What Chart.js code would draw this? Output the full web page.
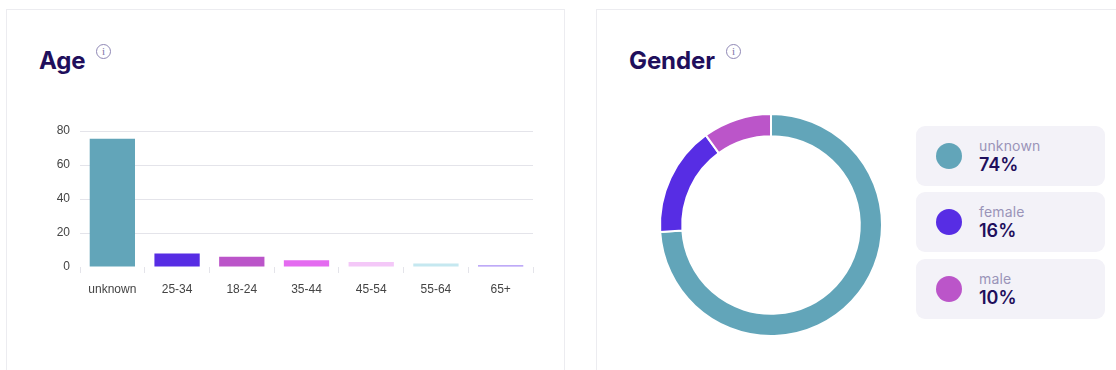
<!DOCTYPE html>
<html>
<head>
<meta charset="utf-8">
<script src="https://cdn.jsdelivr.net/npm/chart.js@4"></script>
<style>
html,body{margin:0;padding:0;background:#fff;width:1116px;height:370px;overflow:hidden}
.card{position:absolute;top:9px;height:400px;border:1px solid #ececf0;box-sizing:border-box;background:#fff}
.title{position:absolute;top:46px;font:700 24px/30px Inter,"Liberation Sans",sans-serif;color:#1f0f5c;letter-spacing:-.1px}
.info{position:absolute;top:44px;width:15px;height:15px;box-sizing:border-box;border:1.3px solid #8f88b5;border-radius:50%;font:400 11px/12.5px "Liberation Serif",serif;color:#7d75a8;text-align:center}
.box{position:absolute}
canvas{display:block}
.leg{position:absolute;left:916px;width:189px;height:60px;background:#f3f2f8;border-radius:9px}
.dot{position:absolute;left:20px;top:17px;width:26px;height:26px;border-radius:50%}
.lab{position:absolute;left:63px;top:11px;font:400 14px/17px Inter,"Liberation Sans",sans-serif;color:#9a94b8;letter-spacing:.15px}
.val{position:absolute;left:63px;top:29px;font:600 18px/20px Inter,"Liberation Sans",sans-serif;color:#1f0f5c}
</style>
</head>
<body>
<div class="card" style="left:6px;width:559px"></div>
<div class="card" style="left:596px;width:530px"></div>
<div class="title" style="left:39px">Age</div>
<div class="info" style="left:96px">i</div>
<div class="title" style="left:629px">Gender</div>
<div class="info" style="left:726px">i</div>
<div class="box" style="left:30px;top:108px;width:520px;height:200px"><canvas id="age" width="520" height="200"></canvas></div>
<div class="box" style="left:655px;top:109px;width:232px;height:232px"><canvas id="gender" width="232" height="232"></canvas></div>
<div id="legend"></div>
<script>
const ageLabels = ["unknown","25-34","18-24","35-44","45-54","55-64","65+"];
const ageValues = [75.5,8,6,4,3,2,1];
const ageColors = ["#62a5b9","#572de4","#bb55c9","#e46bf0","#f4c8f8","#c5e8f0","#a98ef5"];
const ageTicks = [0,20,40,60,80];
const genderLabels = ["unknown","female","male"];
const genderValues = [74,16,10];
const genderColors = ["#62a5b9","#572de4","#bb55c9"];
const legendTops = [126,192,259];

new Chart(document.getElementById("age"),{
  type:"bar",
  data:{labels:ageLabels,datasets:[{data:ageValues,backgroundColor:ageColors,borderWidth:0,barPercentage:0.7,categoryPercentage:1}]},
  options:{
    responsive:false,animation:false,
    layout:{padding:{top:23,right:17,left:0,bottom:0}},
    plugins:{legend:{display:false},tooltip:{enabled:false}},
    scales:{
      x:{
        grid:{drawOnChartArea:false,drawTicks:true,tickLength:6,color:"#e4e4ea"},
        border:{display:false},
        ticks:{color:"#444",font:{family:"'Liberation Sans'",size:12},padding:9,maxRotation:0},
        afterFit(s){s.height=41;s.paddingLeft=0;s.paddingRight=0;}
      },
      y:{
        min:0,max:80,
        afterBuildTicks(s){s.ticks=ageTicks.map(v=>({value:v}));},
        grid:{drawTicks:false,color:ctx=>ctx.tick&&ctx.tick.value===0?"rgba(0,0,0,0)":"#e4e4ea"},
        border:{display:false},
        ticks:{color:"#444",font:{family:"'Liberation Sans'",size:12},padding:10},
        afterFit(s){s.width=50;s.paddingTop=0;s.paddingBottom=0;}
      }
    }
  }
});

new Chart(document.getElementById("gender"),{
  type:"doughnut",
  data:{labels:genderLabels,datasets:[{data:genderValues,backgroundColor:genderColors,borderColor:"#fff",borderWidth:2}]},
  options:{
    responsive:false,animation:false,cutout:"80%",
    layout:{padding:4},
    plugins:{legend:{display:false},tooltip:{enabled:false}}
  }
});

const legend=document.getElementById("legend");
genderLabels.forEach((name,i)=>{
  const item=document.createElement("div");
  item.className="leg";
  item.style.top=legendTops[i]+"px";
  item.innerHTML='<div class="dot" style="background:'+genderColors[i]+'"></div><div class="lab">'+name+'</div><div class="val">'+genderValues[i]+'%</div>';
  legend.appendChild(item);
});
</script>
</body>
</html>
